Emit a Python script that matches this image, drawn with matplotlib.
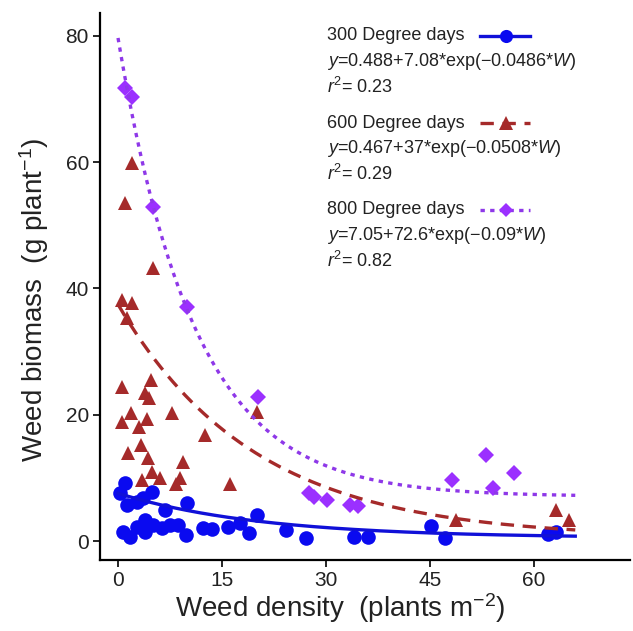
import numpy as np
import matplotlib.pyplot as plt
from matplotlib.lines import Line2D

plt.rcParams['font.family'] = ['Liberation Sans', 'DejaVu Sans']
plt.rcParams['mathtext.fontset'] = 'custom'
plt.rcParams['mathtext.rm'] = 'Liberation Sans'
plt.rcParams['mathtext.it'] = 'Liberation Sans:italic'

# 300 degree days (blue circles)
x300 = [1.0, 0.3, 1.3, 2.7, 3.6, 4.9, 6.8, 10.0, 0.7, 1.7, 2.7, 3.9, 3.9, 5.1, 6.3, 7.5,
        8.7, 9.8, 12.3, 13.6, 15.9, 17.6, 18.9, 20.1, 24.2, 27.1, 34.1, 36.1, 45.2, 47.2,
        62.0, 63.2]
y300 = [9.2, 7.6, 5.7, 6.2, 6.8, 7.8, 4.9, 6.0, 1.4, 0.6, 2.2, 3.3, 1.4, 2.5, 2.1, 2.5,
        2.5, 1.0, 2.1, 1.9, 2.2, 2.9, 1.3, 4.1, 1.7, 0.5, 0.6, 0.6, 2.4, 0.5,
        1.1, 1.4]

# 600 degree days (red triangles)
x600 = [2.0, 1.0, 5.1, 0.6, 2.0, 1.3, 0.6, 4.8, 3.9, 4.5, 7.8, 20.1, 0.6, 1.9, 4.2, 3.0,
        12.6, 1.4, 3.3, 4.3, 9.4, 4.9, 3.5, 6.1, 8.9, 8.4, 16.2, 48.8, 63.2, 65.1]
y600 = [59.9, 53.5, 43.2, 38.2, 37.7, 35.3, 24.4, 25.5, 23.4, 22.7, 20.3, 20.4, 18.9, 20.3,
        19.3, 18.1, 16.8, 13.9, 15.2, 13.1, 12.5, 10.9, 9.7, 10.0, 10.0, 9.0, 9.0, 3.3,
        4.9, 3.3]

# 800 degree days (purple diamonds)
x800 = [1.0, 2.0, 5.1, 10.0, 20.2, 27.6, 28.3, 30.2, 33.5, 34.7, 48.2, 53.1, 54.1, 57.1]
y800 = [71.8, 70.3, 52.9, 37.1, 22.8, 7.6, 7.0, 6.5, 5.7, 5.5, 9.7, 13.6, 8.4, 10.7]

# fitted models y = a + b*exp(c*W)
labels = ['300 Degree days', '600 Degree days', '800 Degree days']
fit_a = [0.488, 0.467, 7.05]
fit_b = [7.08, 37, 72.6]
fit_c = [-0.0486, -0.0508, -0.09]
fit_txt = ['0.488+7.08*exp(\u22120.0486*', '0.467+37*exp(\u22120.0508*', '7.05+72.6*exp(\u22120.09*']
r2 = ['0.23', '0.29', '0.82']

colors = ['#0A0AF0', '#A52A2A', '#9B30FF']
line_colors = ['#1010D8', '#A52A2A', '#8E38E8']
markers = ['o', '^', 'D']
msizes = [10.5, 10.5, 8]
styles = ['-', (0, (4, 2.6)), (0, (1.3, 1.6))]

fig = plt.figure(figsize=(6.33, 6.31), dpi=100)
ax = fig.add_axes([100 / 633, 71 / 631, 530 / 633, 547 / 631])

xs = [x300, x600, x800]
ys = [y300, y600, y800]
W = np.linspace(0, 66, 300)
for i in range(3):
    ax.plot(xs[i], ys[i], linestyle='none', marker=markers[i], ms=msizes[i],
            mfc=colors[i], mec=colors[i], mew=0, zorder=3 + i)
    ax.plot(W, fit_a[i] + fit_b[i] * np.exp(fit_c[i] * W), color=line_colors[i],
            ls=styles[i], lw=2.4, zorder=6 + i)

ax.set_xlim(-2.6, 73.9)
ax.set_ylim(-3.0, 83.6)
ax.set_xticks([0, 15, 30, 45, 60])
ax.set_yticks([0, 20, 40, 60, 80])
for s in ['top', 'right']:
    ax.spines[s].set_visible(False)
for s in ['left', 'bottom']:
    ax.spines[s].set_linewidth(1.6)
ax.tick_params(length=5, width=1.2, labelsize=15, labelcolor='#222222', pad=3)

ax.set_xlabel('Weed density  (plants m$^{\u22122}$)', fontsize=20, color='#222222')
ax.set_ylabel('Weed biomass  (g plant$^{\u22121}$)', fontsize=20, color='#222222')
ax.xaxis.set_label_coords((340 - 100) / 530, -(591 - 560) / 547)
ax.yaxis.set_label_coords(-(100 - 51) / 530, (560 - 300) / 547)

# legend block drawn by hand (three lines per group, key beside title)
ty = [36, 123, 210]
for i in range(3):
    y0 = ty[i]
    fig.text(327 / 633, 1 - y0 / 631, labels[i], fontsize=13, color='#222222', va='center')
    fig.text(327 / 633, 1 - (y0 + 26) / 631, '$\\it{y}$=' + fit_txt[i] + '$\\it{W}$)',
             fontsize=13, color='#222222', va='center')
    fig.text(327 / 633, 1 - (y0 + 51) / 631, '$\\it{r}^{2}$= ' + r2[i], fontsize=13,
             color='#222222', va='center')
    fig.add_artist(Line2D([480 / 633, 530 / 633], [1 - y0 / 631, 1 - y0 / 631],
                          color=line_colors[i], ls=styles[i], lw=2.4))
    fig.add_artist(Line2D([506 / 633], [1 - y0 / 631], marker=markers[i], ms=msizes[i] * 0.9,
                          mfc=colors[i], mec=colors[i], mew=0, ls='none'))

fig.savefig('out.png', dpi=100, facecolor='white')
